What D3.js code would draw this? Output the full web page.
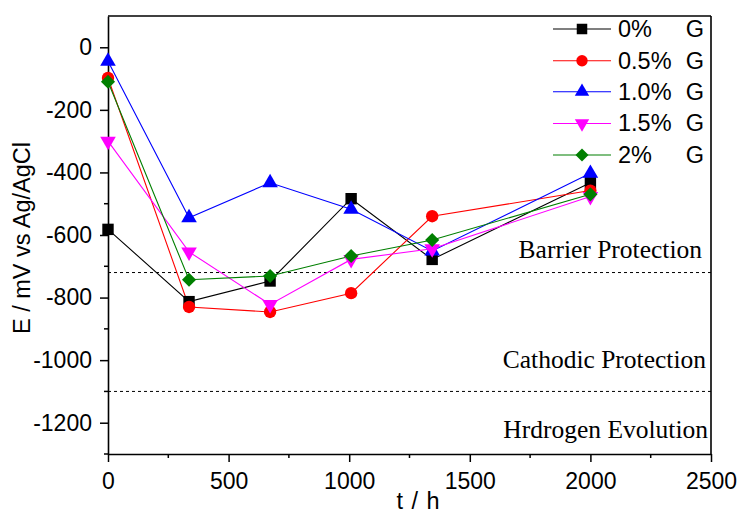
<!DOCTYPE html>
<html><head><meta charset="utf-8">
<script src="https://cdn.jsdelivr.net/npm/d3@7/dist/d3.min.js"></script>
<style>body{margin:0;background:#fff}svg{display:block}</style>
</head><body>
<script>
const times = [0, 336, 672, 1008, 1344, 2000];
const seriesNames = ["0%", "0.5%", "1.0%", "1.5%", "2%"];
const g0  = [-582, -813, -747, -484, -678, -433];
const g05 = [-98, -830, -846, -786, -540, -458];
const g10 = [-45, -545, -433, -518, -651, -403];
const g15 = [-300, -654, -822, -678, -644, -477];
const g20 = [-110, -743, -731, -667, -616, -470];
const colors = ["#000000", "#ff0000", "#0000ff", "#ff00ff", "#007f00"];
const xTicks = [0, 500, 1000, 1500, 2000, 2500];
const yTicks = [0, -200, -400, -600, -800, -1000, -1200];
const thresholds = [-720, -1100];
const zones = ["Barrier Protection", "Cathodic Protection", "Hrdrogen Evolution"];

const W = 738, H = 515;
const m = {l:108, r:711, t:16, b:454};
const svg = d3.select("body").append("svg").attr("width", W).attr("height", H);
const x = d3.scaleLinear().domain([0, 2500]).range([m.l, m.r]);
const y = d3.scaleLinear().domain([-1300, 100]).range([m.b, m.t]);

// threshold lines
svg.selectAll(".thr").data(thresholds).enter().append("line")
  .attr("x1", m.l).attr("x2", m.r).attr("y1", d => y(d)).attr("y2", d => y(d))
  .attr("stroke", "#000").attr("stroke-width", 1).attr("stroke-dasharray", "3,3");

// zone labels
const zoneY = [-675, -1025, -1250];
const zoneX = [702, 706, 708];
svg.selectAll(".zone").data(zones).enter().append("text")
  .attr("x", (d,i) => zoneX[i]).attr("y", (d,i) => y(zoneY[i]))
  .attr("text-anchor", "end").attr("font-family", "'Liberation Serif','Times New Roman',serif")
  .attr("font-size", 25.5).attr("fill", "#000").text(d => d);

// axes
const font = "'Liberation Sans',Arial,sans-serif";
const fmt = d => String(d);
const xAxis = d3.axisBottom(x).tickValues(xTicks).tickFormat(fmt).tickSize(8).tickSizeOuter(0).tickPadding(11);
const gx = svg.append("g").attr("transform", `translate(0,${m.b})`).call(xAxis);
const xMinor = d3.range(250, 2500, 500);
gx.selectAll(".minor").data(xMinor).enter().append("line")
  .attr("x1", d => x(d)).attr("x2", d => x(d)).attr("y1", 0).attr("y2", 4)
  .attr("stroke", "#000").attr("stroke-width", 1.5);

const yAxis = d3.axisLeft(y).tickValues(yTicks).tickFormat(fmt).tickSize(8).tickSizeOuter(0).tickPadding(8);
const gy = svg.append("g").attr("transform", `translate(${m.l},0)`).call(yAxis);
const yMinor = d3.range(-1300, 100, 200);
gy.selectAll(".minor").data(yMinor).enter().append("line")
  .attr("x1", -4).attr("x2", 0).attr("y1", d => y(d)).attr("y2", d => y(d))
  .attr("stroke", "#000").attr("stroke-width", 1.5);

[gx, gy].forEach(g => {
  g.selectAll("text").attr("font-family", font).attr("font-size", 23).attr("fill", "#000");
  g.selectAll("line").attr("stroke-width", 1.5);
  g.select(".domain").attr("stroke-width", 1.6);
});

// top and right frame
svg.append("line").attr("x1", m.l).attr("x2", m.r).attr("y1", m.t).attr("y2", m.t).attr("stroke", "#000").attr("stroke-width", 1.6);
svg.append("line").attr("x1", m.r).attr("x2", m.r).attr("y1", m.t).attr("y2", m.b).attr("stroke", "#000").attr("stroke-width", 1.6);

// axis titles
svg.append("text").attr("x", 418).attr("y", 509).attr("text-anchor", "middle")
  .attr("font-family", font).attr("font-size", 23.5).attr("word-spacing", 2).text("t / h");
svg.append("text").attr("transform", `translate(30,238) rotate(-90)`).attr("text-anchor", "middle")
  .attr("font-family", font).attr("font-size", 23.5).text("E / mV vs Ag/AgCl");

// symbols
const symDefs = [
  {type: d3.symbolSquare, size: 130, rot: 0},
  {type: d3.symbolCircle, size: 120, rot: 0},
  {type: d3.symbolTriangle, size: 105, rot: 0},
  {type: d3.symbolTriangle, size: 105, rot: 180},
  {type: d3.symbolSquare, size: 100, rot: 45}
];
const allSeries = [g0, g05, g10, g15, g20];
const line = d3.line().x(d => x(d[0])).y(d => y(d[1]));

allSeries.forEach((vals, i) => {
  const pts = times.map((t, j) => [t, vals[j]]);
  svg.append("path").datum(pts).attr("d", line).attr("fill", "none")
    .attr("stroke", colors[i]).attr("stroke-width", 1.1);
});
allSeries.forEach((vals, i) => {
  const pts = times.map((t, j) => [t, vals[j]]);
  const s = symDefs[i];
  svg.selectAll(".pt" + i).data(pts).enter().append("path")
    .attr("d", d3.symbol().type(s.type).size(s.size))
    .attr("transform", d => `translate(${x(d[0])},${y(d[1])}) rotate(${s.rot})`)
    .attr("fill", colors[i]);
});

// legend
const legY = [29, 60.7, 91.7, 123.5, 155];
const lg = svg.append("g");
seriesNames.forEach((name, i) => {
  lg.append("line").attr("x1", 553).attr("x2", 611).attr("y1", legY[i]).attr("y2", legY[i])
    .attr("stroke", colors[i]).attr("stroke-width", 1.1);
  const s = symDefs[i];
  lg.append("path").attr("d", d3.symbol().type(s.type).size(s.size * 0.85))
    .attr("transform", `translate(582,${legY[i]}) rotate(${s.rot})`).attr("fill", colors[i]);
  lg.append("text").attr("x", 618).attr("y", legY[i]).attr("dy", "0.34em")
    .attr("font-family", font).attr("font-size", 23.5).text(name);
  lg.append("text").attr("x", 704).attr("y", legY[i]).attr("dy", "0.34em").attr("text-anchor", "end")
    .attr("font-family", font).attr("font-size", 23.5).text("G");
});
</script>
</body></html>
